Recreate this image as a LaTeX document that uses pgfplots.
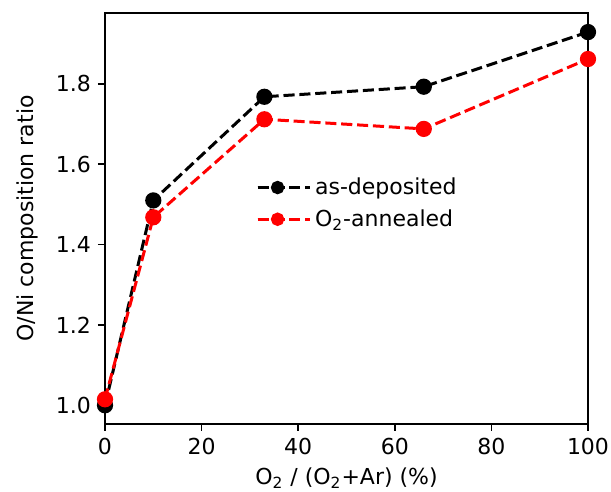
\documentclass[border=0pt]{standalone}
\usepackage{fontspec}
\setmainfont{DejaVu Sans}
\usepackage{pgfplots}
\pgfplotsset{compat=1.18}
\begin{document}
\begin{tikzpicture}
\begin{axis}[
  scale only axis,
  width=241.5pt, height=205.5pt,
  xmin=0, xmax=100, ymin=0.9535, ymax=1.9765,
  xtick={0,20,40,60,80,100},
  ytick={1.0,1.2,1.4,1.6,1.8},
  yticklabel style={/pgf/number format/.cd,fixed,fixed zerofill,precision=1},
  xticklabel style={inner xsep=0pt},
  /pgf/number format/assume math mode=true,
  tick align=outside,
  tick pos=left,
  major tick length=3.5pt,
  axis line style={line width=0.8pt},
  every tick/.style={line width=0.8pt,black},
  tick label style={font=\fontsize{11}{13}\selectfont},
  label style={font=\fontsize{11}{13}\selectfont},
  xlabel={O\textsubscript{2} / (O\textsubscript{2}+Ar) (\%)},
  ylabel={O/Ni composition ratio},
  xlabel style={at={(axis description cs:0.5,0)}, anchor=base, yshift=-30.5pt, inner sep=0pt},
  ylabel style={yshift=2pt},
  clip=false,
  legend style={at={(0.312,0.61)}, anchor=north west, draw=none, fill=none,
    font=\fontsize{11}{13}\selectfont, row sep=2pt, inner sep=0pt},
  legend cell align=left,
  legend image code/.code={
    \draw[#1] (0pt,0pt) -- (20pt,0pt);
    \draw[#1, mark size=2.6pt] plot coordinates {(10pt,0pt)};
    \path (0pt,0pt) -- (26pt,0pt);
  },
]
\addplot[black, line width=1.5pt, dash pattern=on 5.55pt off 2.4pt, mark=*, mark size=3.3pt, mark options={solid}]
coordinates {(0,1.0) (10,1.51) (33,1.768) (66,1.793) (100,1.929)};
\addlegendentry{as-deposited}
\addplot[red, line width=1.5pt, dash pattern=on 5.55pt off 2.4pt, mark=*, mark size=3.3pt, mark options={solid}]
coordinates {(0,1.015) (10,1.468) (33,1.712) (66,1.688) (100,1.862)};
\addlegendentry{O\textsubscript{2}-annealed}
\path (rel axis cs:1,1) -- ++(11.5pt,6.5pt);
\path (rel axis cs:0,0) -- ++(-52.5pt,-34pt);
\end{axis}
\end{tikzpicture}
\end{document}
